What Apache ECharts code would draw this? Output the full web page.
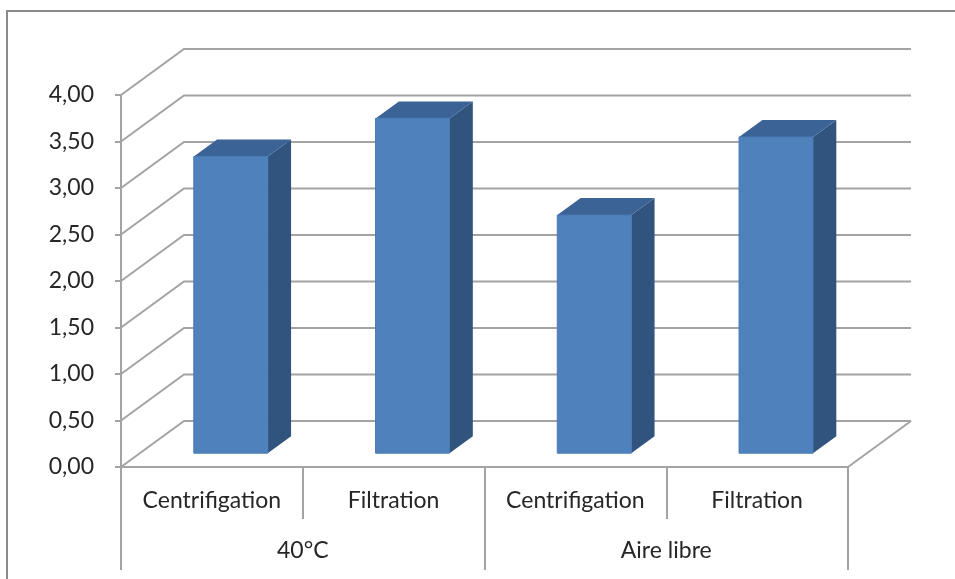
<!DOCTYPE html>
<html>
<head>
<meta charset="utf-8">
<script src="https://cdn.jsdelivr.net/npm/echarts@6/dist/echarts.min.js"></script>
<style>
  html, body { margin: 0; padding: 0; background: #fff; }
  #chart { width: 955px; height: 579px; }
</style>
</head>
<body>
<div id="chart"></div>
<script>
// Sub-categories (first axis level) and their groups (second level)
const methods = ['Centrifigation', 'Filtration', 'Centrifigation', 'Filtration'];
const groups = ['40°C', 'Aire libre'];
const values = [3.19, 3.60, 2.56, 3.40];
const yTicks = [0, 0.5, 1, 1.5, 2, 2.5, 3, 3.5, 4];

// Perspective offset of the back wall and where the bars sit in depth
const DEPTH_DX = 63, DEPTH_DY = -46;
const BAR_FRONT = 0.30, BAR_DEPTH = 0.37, BAR_WIDTH = 0.407;

const gridColor = '#a3a3a3';
const textColor = '#262626';
const fontFamily = 'Lato, "Liberation Sans", sans-serif';
const fontSize = 23;

const fmt = v => v.toFixed(2).replace('.', ',');

const chart = echarts.init(document.getElementById('chart'), null, { renderer: 'canvas' });

// Wall and floor gridlines: diagonal on the side wall, horizontal on the back wall
function renderWall(params, api) {
  const v = api.value(1);
  const cs = params.coordSys;
  const x0 = cs.x, x1 = cs.x + cs.width;
  const y = api.coord([0, v])[1];
  const children = [{
    type: 'polyline',
    shape: { points: [[x0, y], [x0 + DEPTH_DX, y + DEPTH_DY], [x1 + DEPTH_DX, y + DEPTH_DY]] },
    style: { stroke: gridColor, lineWidth: 2, fill: null }
  }];
  if (v === 0) {
    children.push({
      type: 'line',
      shape: { x1: x1, y1: y, x2: x1 + DEPTH_DX, y2: y + DEPTH_DY },
      style: { stroke: gridColor, lineWidth: 2 }
    });
  }
  return { type: 'group', children: children };
}

// 3D bar: front face, top face and right side face
function renderBar(params, api) {
  const i = api.value(0), v = api.value(1);
  const band = api.size([1, 0])[0];
  const w = band * BAR_WIDTH;
  const base = api.coord([i, 0]);
  const top = api.coord([i, v]);
  const ox = DEPTH_DX * BAR_FRONT, oy = DEPTH_DY * BAR_FRONT;
  const dx = DEPTH_DX * BAR_DEPTH, dy = DEPTH_DY * BAR_DEPTH;
  const xl = base[0] - w / 2 + ox, xr = base[0] + w / 2 + ox;
  const yb = base[1] + oy, yt = top[1] + oy;
  return {
    type: 'group',
    children: [
      { type: 'polygon', shape: { points: [[xr, yt], [xr + dx, yt + dy], [xr + dx, yb + dy], [xr, yb]] },
        style: { fill: '#31547f' } },
      { type: 'polygon', shape: { points: [[xl, yt], [xl + dx, yt + dy], [xr + dx, yt + dy], [xr, yt]] },
        style: { fill: '#3b6396' } },
      { type: 'rect', shape: { x: xl, y: yt, width: w, height: yb - yt },
        style: { fill: '#4f81bd', stroke: '#4a7ab4', lineWidth: 1 } }
    ]
  };
}

chart.setOption({
  animation: false,
  graphic: [{
    type: 'rect', z: 0, silent: true,
    shape: { x: 7, y: 11, width: 980, height: 600 },
    style: { fill: null, stroke: '#8a8a8a', lineWidth: 2 }
  }],
  grid: { left: 121, right: 107, top: 95, bottom: 112 },
  xAxis: [{
    type: 'category',
    data: methods,
    position: 'bottom',
    axisLine: { show: true, lineStyle: { color: gridColor, width: 2 } },
    axisTick: { show: true, length: 52, lineStyle: { color: gridColor, width: 2 } },
    axisLabel: { margin: 22, color: textColor, fontSize: fontSize, fontFamily: fontFamily }
  }, {
    type: 'category',
    data: groups,
    position: 'bottom',
    axisLine: { show: false },
    axisTick: { show: true, length: 103, lineStyle: { color: gridColor, width: 2 } },
    axisLabel: { margin: 72, color: textColor, fontSize: fontSize, fontFamily: fontFamily }
  }],
  yAxis: {
    type: 'value',
    min: 0, max: 4, interval: 0.5,
    axisLine: { show: true, lineStyle: { color: gridColor, width: 2 } },
    axisTick: { show: true, length: 6, lineStyle: { color: gridColor, width: 2 } },
    splitLine: { show: false },
    axisLabel: { margin: 27, color: textColor, fontSize: fontSize, fontFamily: fontFamily, formatter: fmt }
  },
  series: [{
    type: 'custom',
    z: 1,
    clip: false,
    silent: true,
    renderItem: renderWall,
    data: yTicks.map(v => [0, v])
  }, {
    type: 'custom',
    z: 3,
    clip: false,
    renderItem: renderBar,
    data: values.map((v, i) => [i, v])
  }]
});
</script>
</body>
</html>
